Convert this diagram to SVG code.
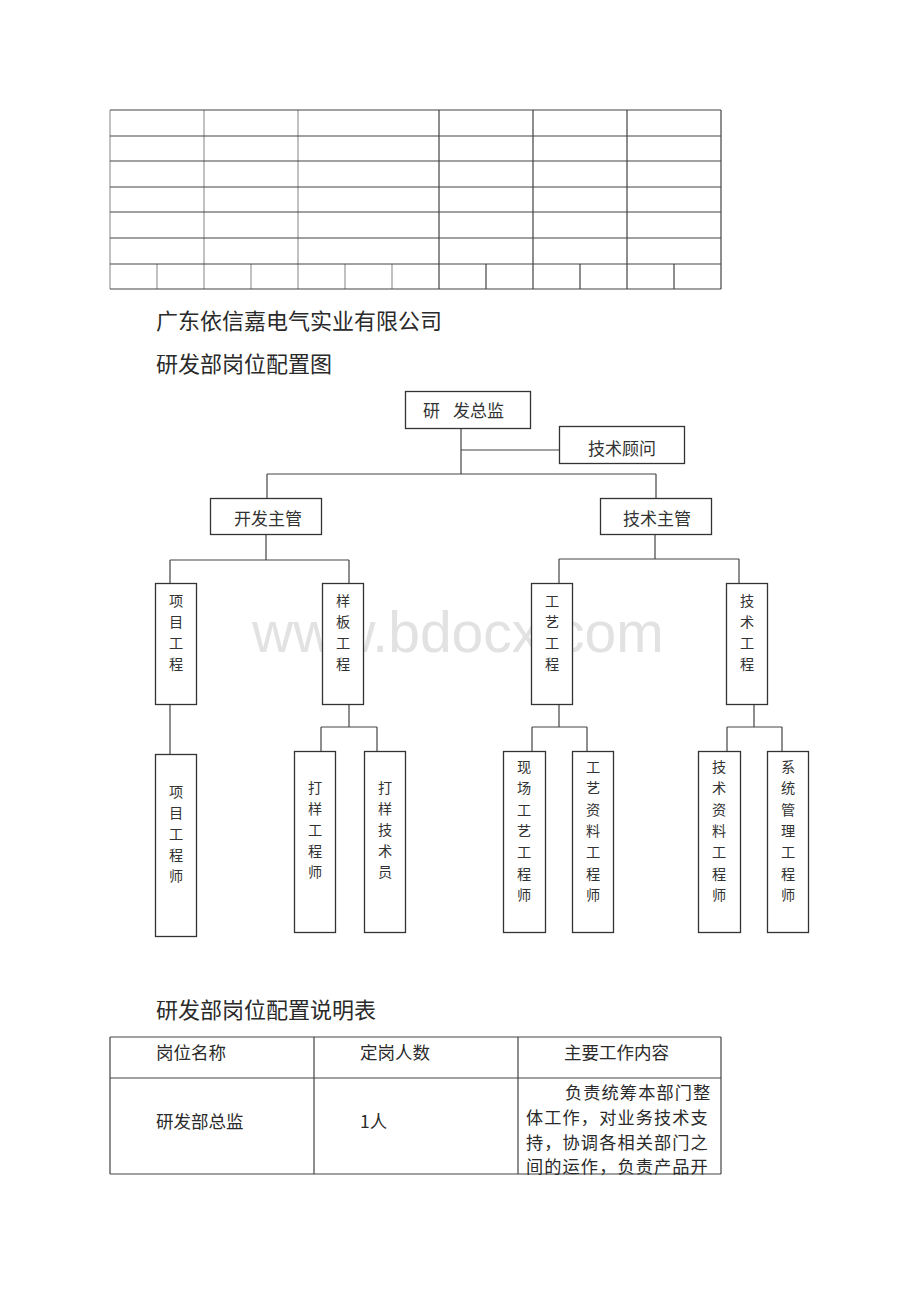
<svg xmlns="http://www.w3.org/2000/svg" width="920" height="1302" viewBox="0 0 920 1302">
<style>
.t{font-family:"Noto Sans CJK SC","Noto Sans CJK JP",sans-serif;fill:#2a2a2a}
.h1{font-size:22px}
.n{font-size:17px;fill:#333}
.v{font-size:14.2px;fill:#333}
.c{font-size:17.5px}
.p{font-size:17.2px;letter-spacing:1.1px}
.grid{stroke:#444;stroke-width:1.2;fill:none}
.gl{stroke:#999;stroke-width:1.2;fill:none}
.box{fill:#fff;stroke:#333;stroke-width:1.3}
.ln{stroke:#444;stroke-width:1.2;fill:none}
.wm{font-family:"Liberation Sans",Arial,sans-serif;font-size:57px;fill:#e2e2e2}
</style>
<rect width="920" height="1302" fill="#fff"/>

<g id="top-table">
<path class="gl" d="M110 110V289M204 110V289M298 110V289M157 264V289M251 264V289M345 264V289M392 264V289"/>
<path class="grid" d="M439 110V289M533 110V289M627 110V289M721 110V289M486 264V289M580 264V289M674 264V289"/>
<path class="grid" d="M110 110H721M110 136H721M110 161H721M110 187H721M110 212H721M110 238H721M110 264H721M110 289H721"/>
</g>

<g id="titles">
<text class="t h1" x="156" y="329">广东依信嘉电气实业有限公司</text>
<text class="t h1" x="156" y="372">研发部岗位配置图</text>
</g>

<text class="wm" x="252" y="652">www.bdocx.com</text>

<g id="connectors">
<path class="ln" d="M461 428V474M461 450H559M267 474H656M267 474V498M656 474V498"/>
<path class="ln" d="M266 534V560M170 560H349M170 560V583M349 560V583"/>
<path class="ln" d="M655 534V559M559 559H739M559 559V584M739 559V584"/>
<path class="ln" d="M170 704V754"/>
<path class="ln" d="M349 704V727M321 727H377M321 727V751M377 727V751"/>
<path class="ln" d="M559 704V727M532 727H587M532 727V751M587 727V751"/>
<path class="ln" d="M754 704V727M727 727H782M727 727V751M782 727V751"/>
</g>

<g id="n-director">
<rect class="box" x="405.5" y="391.5" width="125" height="37"/>
<text class="t n" x="423" y="417">研</text>
<text class="t n" x="453" y="417">发总监</text>
</g>
<g id="n-advisor">
<rect class="box" x="559.5" y="426.5" width="125" height="37"/>
<text class="t n" x="622" y="455" text-anchor="middle">技术顾问</text>
</g>
<g id="n-dev">
<rect class="box" x="210.5" y="498.5" width="111" height="36"/>
<text class="t n" x="268" y="525" text-anchor="middle">开发主管</text>
</g>
<g id="n-tech">
<rect class="box" x="600.5" y="498.5" width="111" height="36"/>
<text class="t n" x="657" y="525" text-anchor="middle">技术主管</text>
</g>

<g id="n-proj">
<rect class="box" x="155.5" y="583.5" width="41" height="121"/>
<text class="t v" text-anchor="middle"><tspan x="176" y="606">项</tspan><tspan x="176" y="627">目</tspan><tspan x="176" y="648">工</tspan><tspan x="176" y="669">程</tspan></text>
</g>
<g id="n-sample">
<rect class="box" x="322.5" y="583.5" width="41" height="121"/>
<text class="t v" text-anchor="middle"><tspan x="343" y="606">样</tspan><tspan x="343" y="627">板</tspan><tspan x="343" y="648">工</tspan><tspan x="343" y="669">程</tspan></text>
</g>
<g id="n-craft">
<rect class="box" x="531.5" y="583.5" width="41" height="121"/>
<text class="t v" text-anchor="middle"><tspan x="552" y="606">工</tspan><tspan x="552" y="627">艺</tspan><tspan x="552" y="648">工</tspan><tspan x="552" y="669">程</tspan></text>
</g>
<g id="n-techeng">
<rect class="box" x="726.5" y="583.5" width="41" height="121"/>
<text class="t v" text-anchor="middle"><tspan x="747" y="606">技</tspan><tspan x="747" y="627">术</tspan><tspan x="747" y="648">工</tspan><tspan x="747" y="669">程</tspan></text>
</g>

<g id="n-proj-eng">
<rect class="box" x="155.5" y="754.5" width="41" height="182"/>
<text class="t v" text-anchor="middle"><tspan x="176" y="797">项</tspan><tspan x="176" y="818">目</tspan><tspan x="176" y="839">工</tspan><tspan x="176" y="860">程</tspan><tspan x="176" y="881">师</tspan></text>
</g>
<g id="n-sample-eng">
<rect class="box" x="294.5" y="751.5" width="41" height="181"/>
<text class="t v" text-anchor="middle"><tspan x="315" y="793">打</tspan><tspan x="315" y="814">样</tspan><tspan x="315" y="835">工</tspan><tspan x="315" y="856">程</tspan><tspan x="315" y="877">师</tspan></text>
</g>
<g id="n-sample-tech">
<rect class="box" x="364.5" y="751.5" width="41" height="181"/>
<text class="t v" text-anchor="middle"><tspan x="385" y="793">打</tspan><tspan x="385" y="814">样</tspan><tspan x="385" y="835">技</tspan><tspan x="385" y="856">术</tspan><tspan x="385" y="877">员</tspan></text>
</g>
<g id="n-site-eng">
<rect class="box" x="503.5" y="751.5" width="42" height="181"/>
<text class="t v" text-anchor="middle"><tspan x="524" y="772">现</tspan><tspan x="524" y="793.3">场</tspan><tspan x="524" y="814.6">工</tspan><tspan x="524" y="835.9">艺</tspan><tspan x="524" y="857.2">工</tspan><tspan x="524" y="878.5">程</tspan><tspan x="524" y="899.8">师</tspan></text>
</g>
<g id="n-craftdoc-eng">
<rect class="box" x="572.5" y="751.5" width="41" height="181"/>
<text class="t v" text-anchor="middle"><tspan x="593" y="772">工</tspan><tspan x="593" y="793.3">艺</tspan><tspan x="593" y="814.6">资</tspan><tspan x="593" y="835.9">料</tspan><tspan x="593" y="857.2">工</tspan><tspan x="593" y="878.5">程</tspan><tspan x="593" y="899.8">师</tspan></text>
</g>
<g id="n-techdoc-eng">
<rect class="box" x="698.5" y="751.5" width="42" height="181"/>
<text class="t v" text-anchor="middle"><tspan x="719" y="772">技</tspan><tspan x="719" y="793.3">术</tspan><tspan x="719" y="814.6">资</tspan><tspan x="719" y="835.9">料</tspan><tspan x="719" y="857.2">工</tspan><tspan x="719" y="878.5">程</tspan><tspan x="719" y="899.8">师</tspan></text>
</g>
<g id="n-sys-eng">
<rect class="box" x="767.5" y="751.5" width="41" height="181"/>
<text class="t v" text-anchor="middle"><tspan x="788" y="772">系</tspan><tspan x="788" y="793.3">统</tspan><tspan x="788" y="814.6">管</tspan><tspan x="788" y="835.9">理</tspan><tspan x="788" y="857.2">工</tspan><tspan x="788" y="878.5">程</tspan><tspan x="788" y="899.8">师</tspan></text>
</g>

<g id="bottom-table">
<text class="t h1" x="156" y="1018">研发部岗位配置说明表</text>
<path class="grid" d="M110 1037H721M110 1078H721M110 1174H721M110 1037V1174M314 1037V1174M518 1037V1174M721 1037V1174"/>
<text class="t c" x="156" y="1059">岗位名称</text>
<text class="t c" x="360" y="1059">定岗人数</text>
<text class="t c" x="564" y="1059">主要工作内容</text>
<text class="t c" x="156" y="1128">研发部总监</text>
<text class="t c" x="360" y="1128">1人</text>
<text class="t p" x="565" y="1099">负责统筹本部门整</text>
<text class="t p" x="526" y="1124">体工作，对业务技术支</text>
<text class="t p" x="526" y="1149">持，协调各相关部门之</text>
<text class="t p" x="526" y="1173">间的运作，负责产品开</text>
</g>
</svg>
